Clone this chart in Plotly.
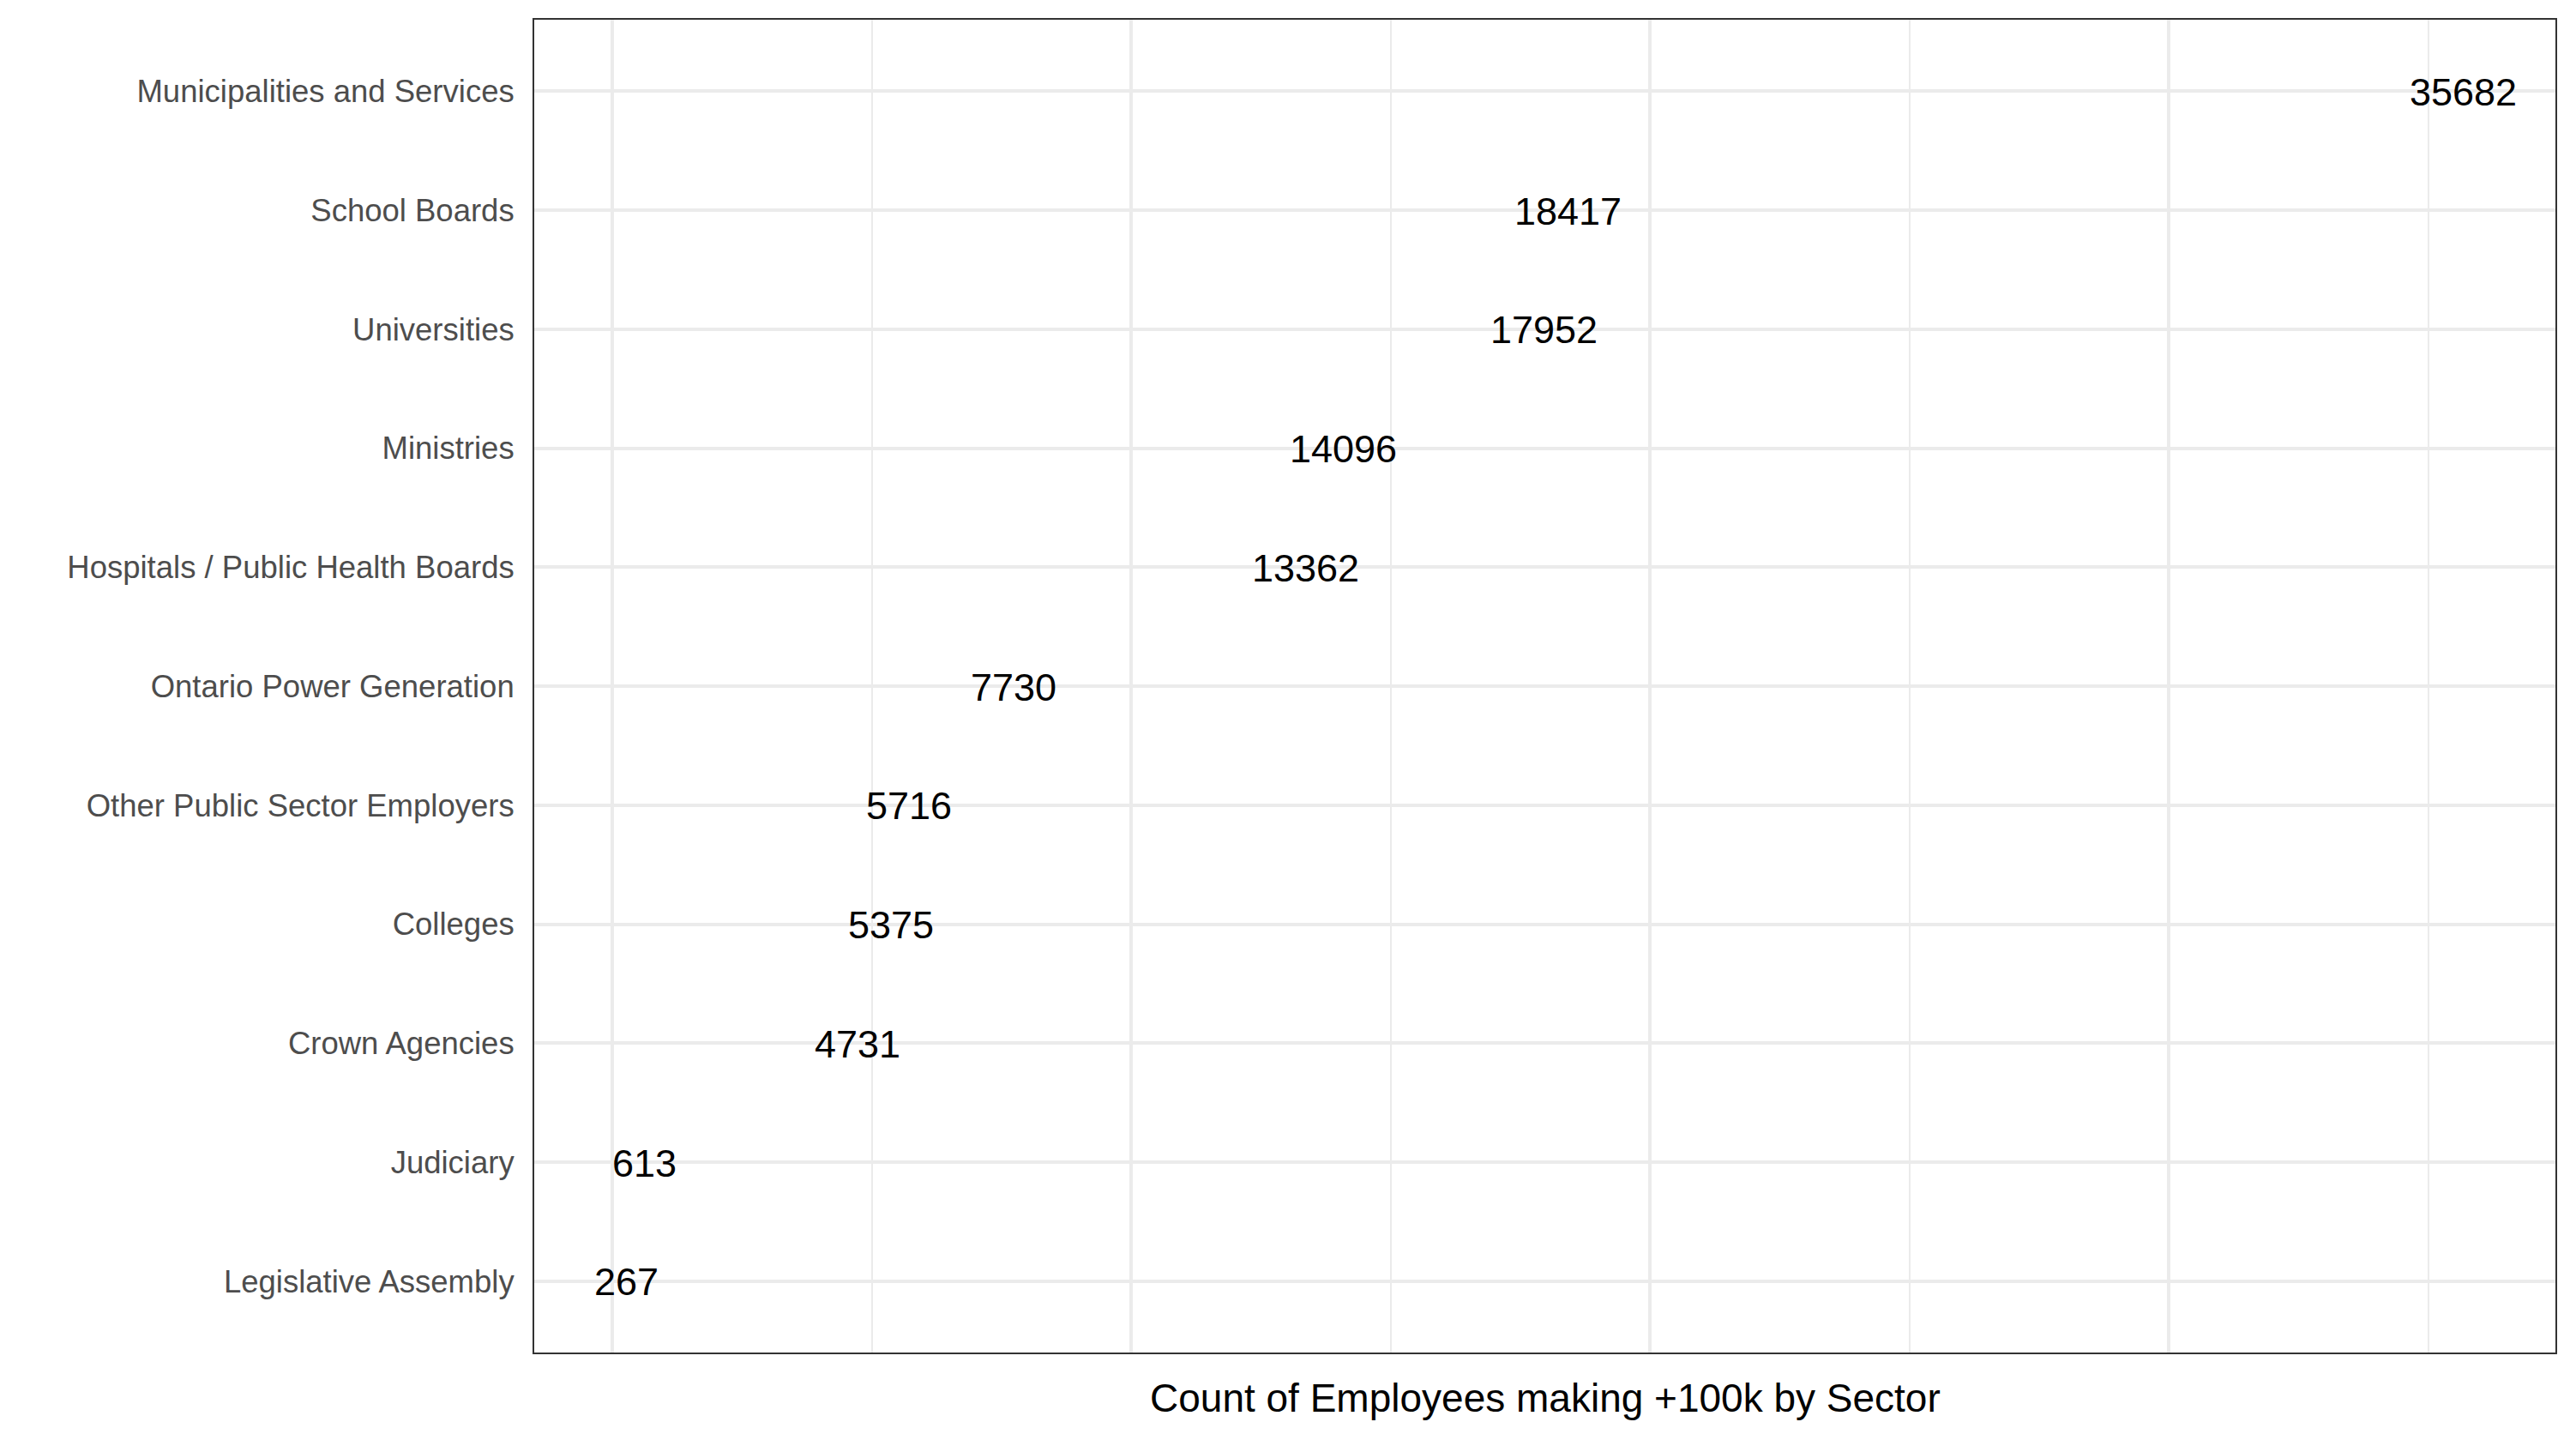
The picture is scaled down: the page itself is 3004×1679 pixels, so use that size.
import plotly.graph_objects as go

sectors = [
    "Legislative Assembly",
    "Judiciary",
    "Crown Agencies",
    "Colleges",
    "Other Public Sector Employers",
    "Ontario Power Generation",
    "Hospitals / Public Health Boards",
    "Ministries",
    "Universities",
    "School Boards",
    "Municipalities and Services",
]
counts = [267, 613, 4731, 5375, 5716, 7730, 13362, 14096, 17952, 18417, 35682]

# page body has an 8px default margin; size the figure to fit the window
W, H = 2988, 1663
ML, MR, MT, MB = 615, 16, 15, 94
FONT = "Liberation Sans, Arial, sans-serif"

fig = go.Figure()
# invisible anchor trace so the axes are set up from the data
fig.add_trace(go.Scatter(
    x=counts, y=sectors, mode="markers",
    marker=dict(size=1, opacity=0),
    hoverinfo="skip", showlegend=False,
))
for c, s in zip(counts, sectors):
    fig.add_annotation(
        x=c, y=s, xref="x", yref="y",
        text=str(c), showarrow=False,
        xanchor="center", yanchor="middle", yshift=-1,
        font=dict(family=FONT, size=45, color="#000000"),
    )

span = max(counts) - min(counts)
fig.update_xaxes(
    range=[min(counts) - 0.05 * span, max(counts) + 0.05 * span],
    showticklabels=False,
    ticks="",
    tick0=0,
    dtick=10000,
    showgrid=True,
    gridcolor="#EBEBEB",
    gridwidth=4,
    minor=dict(tick0=0, dtick=5000, showgrid=True, gridcolor="#EBEBEB", gridwidth=2, ticks=""),
    zeroline=False,
    showline=True,
    linecolor="#333333",
    linewidth=2,
    mirror=True,
)
fig.update_yaxes(
    type="category",
    categoryorder="array",
    categoryarray=sectors,
    range=[-0.6, len(sectors) - 0.4],
    showgrid=True,
    gridcolor="#EBEBEB",
    gridwidth=4,
    ticks="",
    ticklabelstandoff=14,
    tickfont=dict(family=FONT, size=36.5, color="#4D4D4D"),
    zeroline=False,
    showline=True,
    linecolor="#333333",
    linewidth=2,
    mirror=True,
)

fig.add_annotation(
    text="Count of Employees making +100k by Sector",
    xref="paper", yref="paper", x=0.5, y=0,
    xanchor="center", yanchor="middle", yshift=-53,
    showarrow=False,
    font=dict(family=FONT, size=46, color="#000000"),
)

fig.update_layout(
    width=W, height=H,
    margin=dict(l=ML, r=MR, t=MT, b=MB, pad=0),
    plot_bgcolor="#FFFFFF",
    paper_bgcolor="#FFFFFF",
)

fig.write_html("out.html")
